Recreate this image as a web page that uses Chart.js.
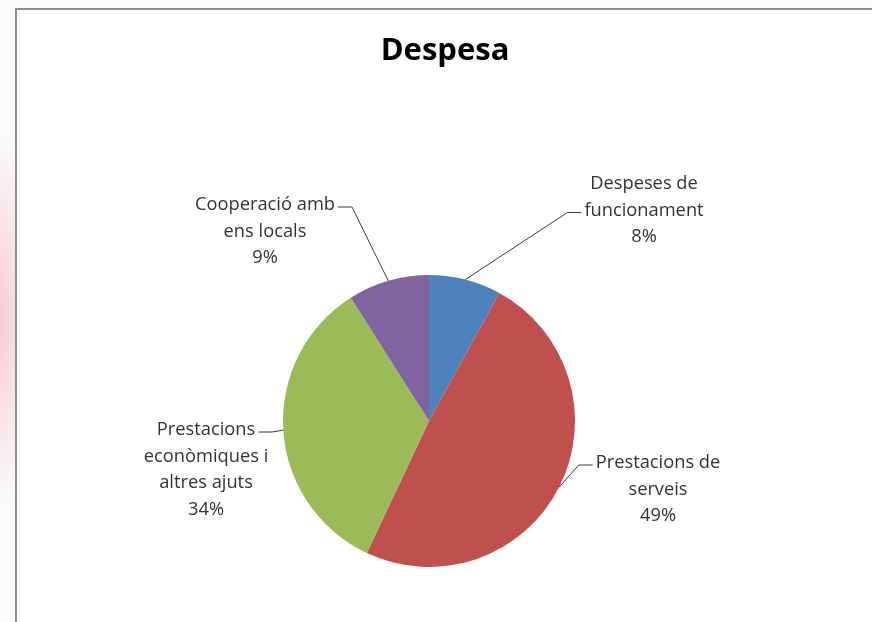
<!DOCTYPE html>
<html>
<head>
<meta charset="utf-8">
<script src="https://cdn.jsdelivr.net/npm/chart.js@4/dist/chart.umd.min.js"></script>
<style>
    html, body {
        margin: 0;
        padding: 0;
        width: 872px;
        height: 622px;
        overflow: hidden;
        background: radial-gradient(ellipse 40px 190px at 0px 320px, rgba(240, 165, 178, 0.55), rgba(255, 255, 255, 0)) #fbfbfb;
    }
    #frame {
        position: absolute;
        left: 15px;
        top: 8px;
        width: 900px;
        height: 700px;
        background: #ffffff;
        border-left: 2px solid #8f8f8f;
        border-top: 2px solid #8f8f8f;
    }
    #despesa_chart {
        position: absolute;
        left: 0;
        top: 0;
    }
</style>
</head>
<body>
<div id="frame"></div>
<canvas id="despesa_chart" width="872" height="622"></canvas>
<script>

var title_text = 'Despesa';
var categories = [
    ['Despeses de', 'funcionament'],
    ['Prestacions de', 'serveis'],
    ['Prestacions', 'econòmiques i', 'altres ajuts'],
    ['Cooperació amb', 'ens locals']
];
var values = [8, 49, 34, 9];
var colours = ['#4F81BD', '#C0504D', '#9BBB59', '#8064A2'];

// label placement relative to the pie centre (baseline of first line), and the line the leader hooks on
var label_pos = [
    {dx: 215, dy: -232, hook: 1},
    {dx: 229, dy: 47, hook: 0},
    {dx: -223, dy: 14, hook: 0},
    {dx: -164, dy: -211, hook: 0}
];
var line_h = 26.5;

var excel_labels = {
    id: 'excel_labels',
    afterDatasetsDraw: function(chart) {
        var ctx = chart.ctx;
        var meta = chart.getDatasetMeta(0);
        var total = values.reduce(function(a, b) { return a + b; }, 0);

        ctx.save();
        ctx.font = '18.3px "Open Sans"';
        ctx.fillStyle = '#333333';
        ctx.textAlign = 'center';
        ctx.textBaseline = 'alphabetic';
        ctx.strokeStyle = '#3a3a3a';
        ctx.lineWidth = 1;

        meta.data.forEach(function(arc, i) {
            var p = arc.getProps(['x', 'y', 'startAngle', 'endAngle', 'outerRadius'], true);
            var mid = (p.startAngle + p.endAngle) / 2;
            var ex = p.x + Math.cos(mid) * p.outerRadius;
            var ey = p.y + Math.sin(mid) * p.outerRadius;

            var lines = categories[i].concat([Math.round(values[i] / total * 100) + '%']);
            var cx = p.x + label_pos[i].dx;
            var top = p.y + label_pos[i].dy;
            lines.forEach(function(t, j) {
                ctx.fillText(t, cx, top + j * line_h);
            });

            // leader line: slice edge -> elbow -> side of the label
            var w = ctx.measureText(lines[label_pos[i].hook]).width;
            var hy = top + label_pos[i].hook * line_h - 3;
            var side = label_pos[i].dx > 0 ? -1 : 1;
            var hx = cx + side * (w / 2 + 3);
            var bx = hx + side * 14;
            ctx.beginPath();
            ctx.moveTo(ex, ey);
            ctx.lineTo(bx, hy);
            ctx.lineTo(hx, hy);
            ctx.stroke();
        });

        // title, centred on the frame rather than on the plot
        ctx.font = 'bold 31px "Open Sans"';
        ctx.fillStyle = '#000000';
        ctx.fillText(title_text, 445, 60);
        ctx.restore();
    }
};

function init_despesa_chart() {
    var elem = document.getElementById('despesa_chart').getContext('2d');

    var despesa_data = {
        labels: categories.map(function(c) { return c.join(' '); }),
        datasets: [{
            data: values,
            backgroundColor: colours,
            borderWidth: 0
        }]
    };

    var despesa_config = {
        type: 'pie',
        data: despesa_data,
        options: {
            responsive: false,
            animation: false,
            layout: {
                padding: {left: 283, right: 297, top: 275, bottom: 55}
            },
            plugins: {
                legend: {display: false},
                tooltip: {enabled: false},
                title: {display: false}
            }
        },
        plugins: [excel_labels]
    };

    return new Chart(elem, despesa_config);
}

init_despesa_chart();

</script>
</body>
</html>
